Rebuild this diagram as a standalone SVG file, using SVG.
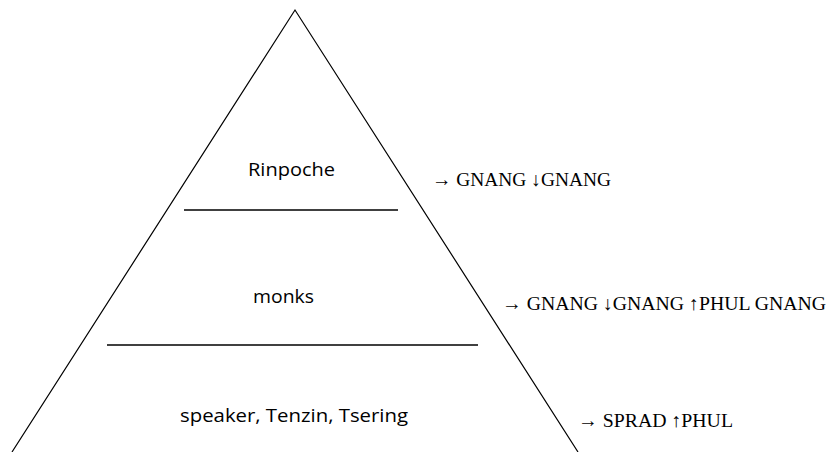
<svg xmlns="http://www.w3.org/2000/svg" width="828" height="452" viewBox="0 0 828 452">
<style>
.edge{stroke:#000;stroke-width:1.2;fill:none}
.div{stroke:#000;stroke-width:1.6}
.lbl{font-family:"Open Sans","Noto Sans",sans-serif;font-size:19px;fill:#000}
.note{font-family:"Liberation Serif",serif;font-size:19.5px;fill:#000}
</style>
<rect width="828" height="452" fill="#fff"/>
<g id="connectors">
<path class="edge" d="M12,452 L295,10 L578,452"/>
<line class="div" x1="184" y1="210" x2="398" y2="210"/>
<line class="div" x1="107" y1="345" x2="478" y2="345"/>
</g>
<g id="rinpoche"><text class="lbl" x="248" y="176" textLength="87" lengthAdjust="spacingAndGlyphs">Rinpoche</text></g>
<g id="monks"><text class="lbl" x="253" y="303" textLength="61" lengthAdjust="spacingAndGlyphs">monks</text></g>
<g id="speaker"><text class="lbl" x="180" y="422" textLength="228" lengthAdjust="spacingAndGlyphs">speaker, Tenzin, Tsering</text></g>
<g id="note1"><text class="note" x="432" y="186" textLength="179" lengthAdjust="spacingAndGlyphs">→ GNANG ↓GNANG</text></g>
<g id="note2"><text class="note" x="502" y="310" textLength="324" lengthAdjust="spacingAndGlyphs">→ GNANG ↓GNANG ↑PHUL GNANG</text></g>
<g id="note3"><text class="note" x="578" y="427" textLength="155" lengthAdjust="spacingAndGlyphs">→ SPRAD ↑PHUL</text></g>
</svg>
